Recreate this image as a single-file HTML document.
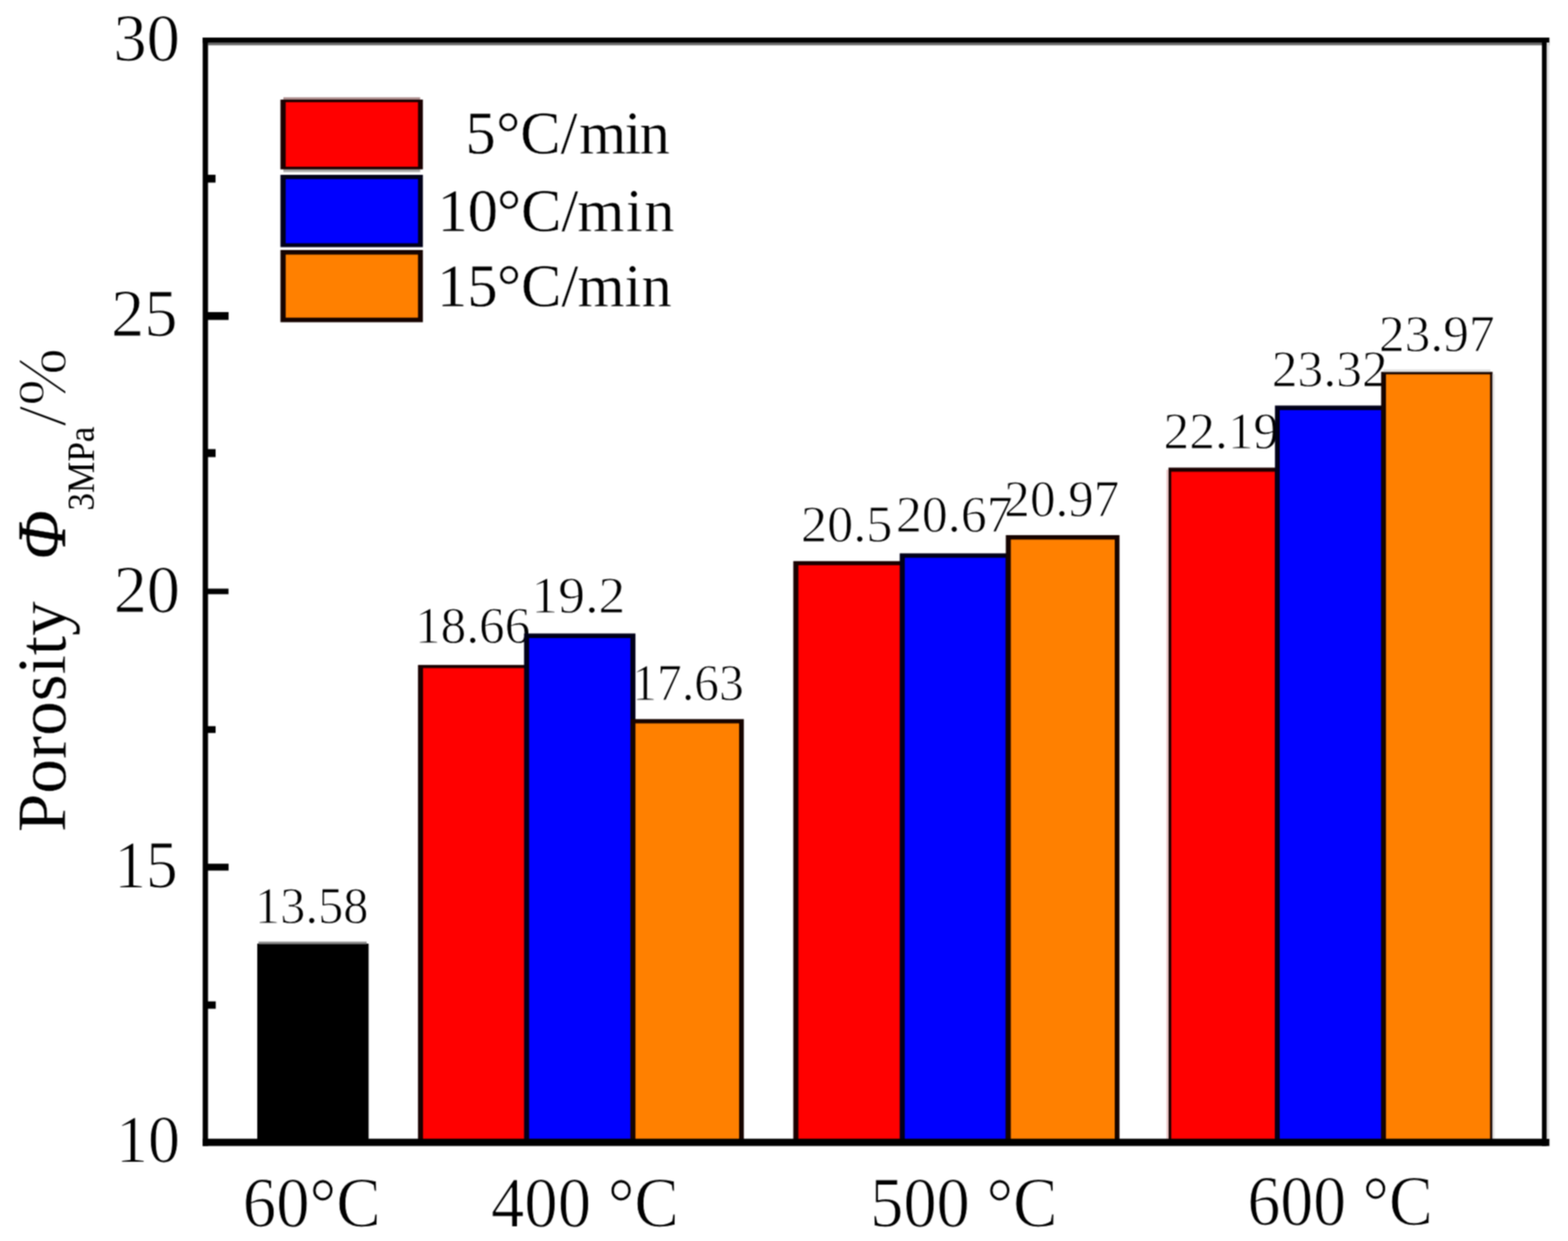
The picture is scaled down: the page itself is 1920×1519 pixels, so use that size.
<!DOCTYPE html>
<html lang="en">
<head>
<meta charset="utf-8">
<title>Porosity vs temperature</title>
<style>
html,body{margin:0;padding:0;background:#fff;}
body{width:1920px;height:1519px;overflow:hidden;}
svg{display:block;}
text{white-space:pre;stroke:#fff;stroke-width:1.1px;stroke-linejoin:round;}
#legend text{stroke-width:.4px;}
#bars text{stroke-width:1px;}
#ytitle text{stroke-width:.3px;}
</style>
</head>
<body>
<svg width="1920" height="1519" viewBox="0 0 1920 1519" font-family='"Liberation Serif", "DejaVu Serif", serif' fill="#000" shape-rendering="geometricPrecision">
<defs><filter id="soft" filterUnits="userSpaceOnUse" x="0" y="0" width="1920" height="1519" color-interpolation-filters="sRGB"><feConvolveMatrix order="3" kernelMatrix="1 2 1 2 4 2 1 2 1" edgeMode="duplicate" preserveAlpha="false"/></filter></defs>
<g filter="url(#soft)">
<rect width="1920" height="1519" fill="#fff"/>
<g id="bars">
<g class="b0"><rect x="315.00" y="1155.20" width="136.20" height="242.80" fill="#000"/><rect x="315.00" y="1155.20" width="136.20" height="242.80" fill="#000"/><rect x="316.5" y="1152.6" width="132.5" height="3" fill="#8a8a8a"/><text transform="translate(312.10 1129.79) scale(0.9787 1)" font-size="63.18">13.58</text></g>
<g class="b1"><rect x="511.80" y="813.90" width="136.20" height="584.10" fill="#1a0000"/><rect x="518.00" y="817.70" width="124.00" height="580.30" fill="#ff0000"/><rect x="971.40" y="686.80" width="136.60" height="711.20" fill="#1a0000"/><rect x="977.60" y="691.80" width="124.40" height="706.20" fill="#ff0000"/><rect x="1430.80" y="572.40" width="136.20" height="825.60" fill="#1a0000"/><rect x="1434.20" y="577.40" width="126.80" height="820.60" fill="#ff0000"/><rect x="1428.4" y="575" width="2.6" height="819" fill="#e9c3c3"/><text transform="translate(508.20 786.89) scale(0.9932 1)" font-size="63.18">18.66</text><text transform="translate(980.70 663.29) scale(1.0145 1)" font-size="63.18">20.5</text><text transform="translate(1424.80 549.29) scale(0.9955 1)" font-size="63.18">22.19</text></g>
<g class="b2"><rect x="641.70" y="775.40" width="136.40" height="622.60" fill="#00001a"/><rect x="647.90" y="781.00" width="124.00" height="617.00" fill="#0000ff"/><rect x="1101.70" y="677.30" width="136.00" height="720.70" fill="#00001a"/><rect x="1107.90" y="682.70" width="123.60" height="715.30" fill="#0000ff"/><rect x="1561.20" y="496.40" width="135.90" height="901.60" fill="#00001a"/><rect x="1567.00" y="502.00" width="124.30" height="896.00" fill="#0000ff"/><text transform="translate(650.55 749.59) scale(1.0424 1)" font-size="63.18">19.2</text><text transform="translate(1096.92 650.89) scale(1.0066 1)" font-size="63.18">20.67</text><text transform="translate(1557.29 473.49) scale(0.9988 1)" font-size="63.18">23.32</text></g>
<g class="b3"><rect x="772.00" y="880.20" width="138.80" height="517.80" fill="#160400"/><rect x="778.10" y="885.40" width="126.90" height="512.60" fill="#ff8000"/><rect x="1231.60" y="655.00" width="139.20" height="743.00" fill="#160400"/><rect x="1237.70" y="660.40" width="127.30" height="737.60" fill="#ff8000"/><rect x="1691.20" y="455.20" width="136.40" height="942.80" fill="#160400"/><rect x="1697.10" y="458.20" width="127.50" height="939.80" fill="#ff8000"/><rect x="1694" y="452.2" width="131" height="3" fill="#e0e0e0"/><rect x="1827.6" y="458" width="2.6" height="936" fill="#e6e6e6"/><text transform="translate(774.24 857.29) scale(0.9606 1)" font-size="63.18">17.63</text><text transform="translate(1229.87 631.89) scale(0.9899 1)" font-size="63.18">20.97</text><text transform="translate(1688.55 429.79) scale(0.9964 1)" font-size="63.18">23.97</text></g>
</g>
<g id="legend"><rect x="347" y="119.0" width="167.5" height="3.2" fill="#b39494"/><rect x="347" y="207.0" width="167.5" height="3.6" fill="#a9a9a9"/><rect x="343.4" y="121.9" width="174.40" height="85.40" fill="#1a0000"/><rect x="349.79999999999995" y="125.10000000000001" width="162.00" height="79.00" fill="#ff0000"/><rect x="343.4" y="214.0" width="174.40" height="88.50" fill="#00001a"/><rect x="349.79999999999995" y="219.2" width="162.00" height="78.50" fill="#0000ff"/><rect x="343.4" y="306.0" width="174.40" height="88.40" fill="#160400"/><rect x="349.79999999999995" y="311.6" width="162.00" height="77.20" fill="#ff8000"/><text y="188.00" font-size="74"><tspan x="569.91">5</tspan><tspan x="607.53">°C/</tspan><tspan x="709.13" letter-spacing="-2.0">min</tspan></text><text y="283.00" font-size="74"><tspan x="535.75">10</tspan><tspan x="608.53">°C/</tspan><tspan x="707.03" letter-spacing="1.9">min</tspan></text><text y="375.00" font-size="74"><tspan x="535.30">15</tspan><tspan x="608.53">°C/</tspan><tspan x="707.28">min</tspan></text></g>
<g id="axes"><rect x="248.2" y="46" width="1649" height="6.6" fill="#000"/><rect x="254.7" y="52.4" width="1642.5" height="3.0" fill="#666"/><rect x="248.2" y="1393.8" width="1649" height="8.9" fill="#000"/><rect x="248.2" y="46" width="6.5" height="1356.7" fill="#000"/><rect x="1888.1" y="46" width="5.8" height="1356.7" fill="#000"/><rect x="1893.9" y="52" width="3" height="1342" fill="#e2e2e2"/><rect x="254" y="213.90" width="9.90" height="9.6" fill="#000"/><rect x="254" y="382.00" width="25.90" height="9.6" fill="#000"/><rect x="254" y="549.70" width="10.00" height="9.8" fill="#000"/><rect x="254" y="720.50" width="25.80" height="6.8" fill="#000"/><rect x="254" y="888.80" width="10.00" height="8.4" fill="#000"/><rect x="254" y="1057.20" width="25.90" height="8.4" fill="#000"/><rect x="254" y="1225.70" width="10.20" height="9.0" fill="#000"/></g>
<g id="yticks"><text transform="translate(138.73 74.29) scale(0.9814 1)" font-size="83.33">30</text><text transform="translate(136.10 411.19) scale(0.9760 1)" font-size="83.33">25</text><text transform="translate(139.16 748.99) scale(0.9760 1)" font-size="83.33">20</text><text transform="translate(139.88 1086.19) scale(0.9310 1)" font-size="83.33">15</text><text transform="translate(142.07 1422.29) scale(0.9396 1)" font-size="83.33">10</text></g>
<g id="xticks"><text transform="translate(297.27 1501.24) scale(0.9488 1)" font-size="86.17">60°C</text><text transform="translate(601.19 1501.24) scale(0.9481 1)" font-size="86.17">400 °C</text><text transform="translate(1065.43 1501.24) scale(0.9449 1)" font-size="86.17">500 °C</text><text transform="translate(1527.58 1498.74) scale(0.9343 1)" font-size="86.17">600 °C</text></g>
<g id="ytitle"><text transform="translate(80.00 1018.50) rotate(-90)" font-size="85" textLength="282.5" lengthAdjust="spacingAndGlyphs" >Porosity</text><text transform="translate(79.50 685.00) rotate(-90)" font-size="85" textLength="60" lengthAdjust="spacingAndGlyphs" font-style="italic" style="stroke:#000;stroke-width:.5px">Φ</text><text transform="translate(115.40 625.00) rotate(-90)" font-size="46" textLength="103" lengthAdjust="spacingAndGlyphs" style="stroke:none">3MPa</text><text transform="translate(80.00 522.00) rotate(-90)" font-size="85" textLength="25.5" lengthAdjust="spacingAndGlyphs" style="stroke-width:1.6px">/</text><text transform="translate(80.00 496.80) rotate(-90)" font-size="85" style="stroke-width:1.6px">%</text></g>
</g>
</svg>
</body>
</html>
